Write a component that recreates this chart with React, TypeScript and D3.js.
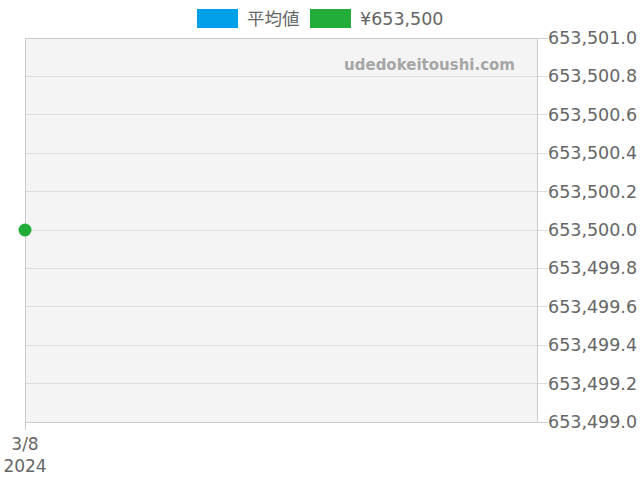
import React, { useRef, useEffect } from 'react';
import * as d3 from 'd3';

const seriesNames = ['平均値', '¥653,500'];
const seriesColors = ['#00a0e9', '#22ac38'];
const dates = ['2024-03-08'];
const averageValues: number[] = [];
const priceValues = [653500];
const yTicks = [653499.0, 653499.2, 653499.4, 653499.6, 653499.8, 653500.0, 653500.2, 653500.4, 653500.6, 653500.8, 653501.0];

const width = 640;
const height = 480;

const App: React.FC = () => {
  const svgRef = useRef<SVGSVGElement>(null);

  useEffect(() => {
    if (!svgRef.current) return;
    const svg = d3.select(svgRef.current);
    svg.selectAll('*').remove();

    const margin = { top: 38, right: 103, bottom: 58, left: 25 };
    const w = width - margin.left - margin.right;
    const h = height - margin.top - margin.bottom;
    const font = '"DejaVu Sans", sans-serif';

    const g = svg.append('g').attr('transform', `translate(${margin.left},${margin.top})`);

    const parse = d3.timeParse('%Y-%m-%d');
    const parsed = dates.map(d => parse(d) as Date);
    const x = d3.scaleTime().domain([parsed[0], d3.timeDay.offset(parsed[0], 1)]).range([0, w]);
    const y = d3.scaleLinear().domain([653499, 653501]).range([h, 0]);

    g.append('rect')
      .attr('width', w).attr('height', h)
      .attr('fill', '#f4f4f4');

    yTicks.forEach(v => {
      g.append('line')
        .attr('x1', 0).attr('x2', w + 11)
        .attr('y1', y(v)).attr('y2', y(v))
        .attr('stroke', v === 653499 || v === 653501 ? '#cccccc' : '#dddddd')
        .attr('stroke-width', 1)
        .attr('shape-rendering', 'crispEdges');
      g.append('text')
        .attr('x', w + 11)
        .attr('y', y(v))
        .attr('dominant-baseline', 'central')
        .attr('font-family', font)
        .attr('font-size', '17.5px')
        .attr('fill', '#666666')
        .text(d3.format(',.1f')(v));
    });

    g.append('rect')
      .attr('width', w).attr('height', h)
      .attr('fill', 'none')
      .attr('stroke', '#cccccc')
      .attr('stroke-width', 1)
      .attr('shape-rendering', 'crispEdges');

    // x ticks
    parsed.forEach(d => {
      g.append('line')
        .attr('x1', x(d)).attr('x2', x(d))
        .attr('y1', h).attr('y2', h + 8)
        .attr('stroke', '#cccccc')
        .attr('shape-rendering', 'crispEdges');
      g.append('text')
        .attr('x', x(d)).attr('y', h + 28)
        .attr('text-anchor', 'middle')
        .attr('font-family', font).attr('font-size', '17px').attr('fill', '#666666')
        .text(d3.timeFormat('%-m/%-d')(d));
      g.append('text')
        .attr('x', x(d)).attr('y', h + 50)
        .attr('text-anchor', 'middle')
        .attr('font-family', font).attr('font-size', '17px').attr('fill', '#666666')
        .text(d3.timeFormat('%Y')(d));
    });

    // watermark
    g.append('text')
      .attr('x', w - 22).attr('y', 32)
      .attr('text-anchor', 'end')
      .attr('font-family', font).attr('font-size', '15px').attr('font-weight', 'bold')
      .attr('fill', '#a6a6a6')
      .text('udedokeitoushi.com');

    // average series (empty)
    g.selectAll('.avg').data(averageValues).enter().append('circle')
      .attr('cx', (_, i) => x(parsed[i])).attr('cy', d => y(d))
      .attr('r', 6).attr('fill', seriesColors[0]);

    // price points
    g.selectAll('.price').data(priceValues).enter().append('circle')
      .attr('cx', (_, i) => x(parsed[i])).attr('cy', d => y(d))
      .attr('r', 6.5).attr('fill', seriesColors[1]);

    // legend
    const legend = svg.append('g').attr('transform', 'translate(197, 9)');
    const offsets = [0, 113];
    seriesNames.forEach((name, i) => {
      legend.append('rect')
        .attr('x', offsets[i]).attr('y', 0)
        .attr('width', 41).attr('height', 19)
        .attr('fill', seriesColors[i]);
      legend.append('text')
        .attr('x', offsets[i] + 50).attr('y', 10)
        .attr('dominant-baseline', 'central')
        .attr('font-family', '"DejaVu Sans", "Noto Sans CJK JP", sans-serif')
        .attr('font-size', '17.5px').attr('fill', '#666666')
        .text(name);
    });
  }, []);

  return <svg ref={svgRef} width={width} height={height} style={{ position: 'absolute', left: 0, top: 0 }} />;
};

export default App;
